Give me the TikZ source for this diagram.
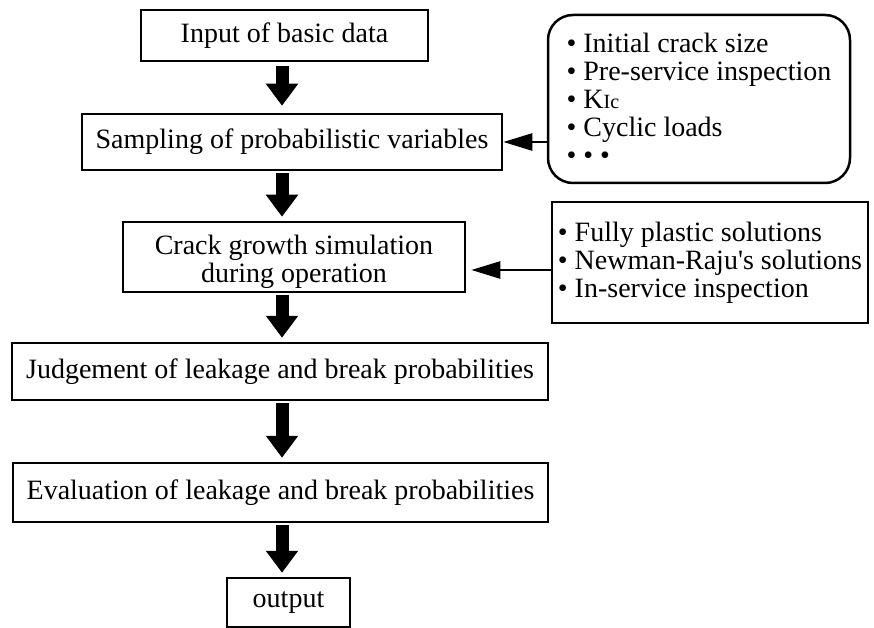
\documentclass[tikz,border=0pt]{standalone}
\usepackage{graphicx}
\usepackage{fontspec}
\setmainfont{Liberation Serif}
\usetikzlibrary{arrows.meta}

\begin{document}
\begin{tikzpicture}[x=1pt,y=-1pt,
        box/.style={draw,line width=2.5pt,inner sep=0pt,align=center,
            font=\rmfamily\fontsize{28}{28}\selectfont},
        listbox/.style={box,align=left},
        bigarrow/.style={line width=13pt,shorten <=2pt,shorten >=4pt,
            -{Triangle[length=22pt,width=31pt]}},
        thinarrow/.style={line width=2.5pt,-{Triangle[length=29pt,width=17pt]}}]
            \useasboundingbox (0,0) rectangle (874,628);
            \coordinate (axis) at (282,0);

            %main flow
            \node[box,minimum width=287,minimum height=51] (input) at (284.5,35.5) {Input of basic data};
            \node[box,minimum width=420,minimum height=56] (sampling) at (292,142) {Sampling of probabilistic variables};
            \node[box,minimum width=342,minimum height=70] (crack) at (294,257) {\rule{0pt}{30pt}Crack growth simulation\\during operation};
            \node[box,minimum width=536,minimum height=57] (judge) at (280,371.5) {Judgement of leakage and break probabilities};
            \node[box,minimum width=535,minimum height=59] (evaluate) at (280.5,492.5) {Evaluation of leakage and break probabilities};
            \node[box,minimum width=123,minimum height=49] (output) at (288.5,602.5) {output};

            %inputs on the right
            \node[listbox,rounded corners=25pt,minimum width=302,minimum height=168] (params) at (699,99)
                {\textbullet\ Initial crack size\\
                 \textbullet\ Pre-service inspection\\
                 \textbullet\ K\scalebox{0.72}{Ic}\\
                 \textbullet\ Cyclic loads\\
                 \textbullet\ \textbullet\ \textbullet};
            \node[listbox,minimum width=316,minimum height=121] (solutions) at (710,262.5)
                {\textbullet\ Fully plastic solutions\\
                 \textbullet\ Newman-Raju\textquotesingle s solutions\\
                 \textbullet\ In-service inspection};

            \draw[bigarrow,shorten <=4pt,shorten >=7pt] (input.south -| axis) -- (sampling.north -| axis);
            \draw[bigarrow] (sampling.south -| axis) -- (crack.north -| axis);
            \draw[bigarrow] (crack.south -| axis) -- (judge.north -| axis);
            \draw[bigarrow] (judge.south -| axis) -- (evaluate.north -| axis);
            \draw[bigarrow] (evaluate.south -| axis) -- (output.north -| axis);

            \draw[thinarrow] (params.west |- sampling.east) -- (sampling.east);
            \coordinate (feed) at ([yshift=-7.5pt]solutions.west);
            \draw[thinarrow,shorten >=5pt] (feed) -- (feed -| crack.east);
        \end{tikzpicture}
\end{document}
